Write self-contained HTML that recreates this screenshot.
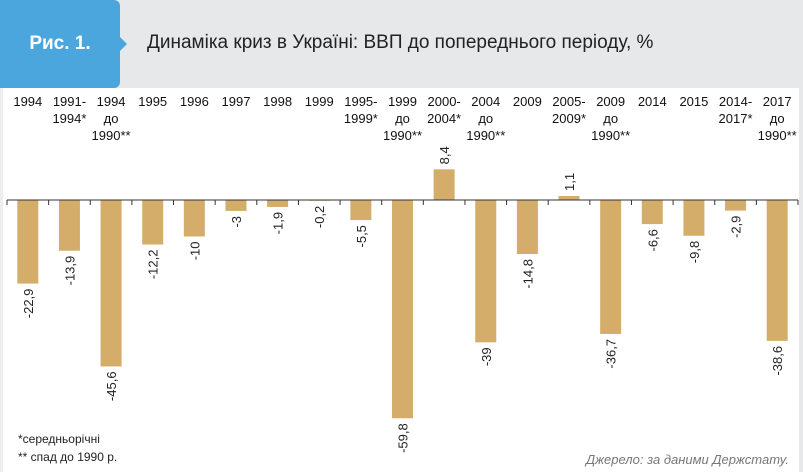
<!DOCTYPE html>
<html><head><meta charset="utf-8"><style>
body{margin:0;width:803px;height:472px;overflow:hidden;background:#fff;font-family:"Liberation Sans",sans-serif}
#hdr{position:absolute;left:0;top:0;width:803px;height:88px;background:#e7e8ea}
#badge{position:absolute;left:0;top:0;width:120px;height:88px;background:#4ba6dd;border-radius:0 6px 6px 0;color:#fff;font-weight:bold;font-size:19px;line-height:88px;text-align:center}
#notch{position:absolute;left:120px;top:37px;width:0;height:0;border-top:7px solid transparent;border-bottom:7px solid transparent;border-left:7px solid #4ba6dd}
#title{position:absolute;left:147px;top:32px;font-size:19px;color:#222}
#rs{position:absolute;right:0;top:88px;width:4px;height:384px;background:#e7e8ea}
#ls{position:absolute;left:0;top:88px;width:3px;height:384px;background:#eee}
svg{position:absolute;left:0;top:0}
.fn{position:absolute;left:18px;font-size:12px;color:#222}
#src{position:absolute;right:14px;top:452px;font-size:13px;font-style:italic;color:#777}
</style></head><body>
<div id="hdr"></div>
<div id="badge">Рис. 1.</div>
<div id="notch"></div>
<div id="title">Динаміка криз в Україні: ВВП до попереднього періоду, %</div>
<div id="rs"></div>
<div id="ls"></div>
<svg id="chart" width="803" height="472"></svg>
<div class="fn" style="top:432px">*середньорічні</div>
<div class="fn" style="top:450px">** спад до 1990 р.</div>
<div id="src">Джерело: за даними Держстату.</div>
<script>
const categories=[["1994"],["1991-","1994*"],["1994","до","1990**"],["1995"],["1996"],["1997"],["1998"],["1999"],["1995-","1999*"],["1999","до","1990**"],["2000-","2004*"],["2004","до","1990**"],["2009"],["2005-","2009*"],["2009","до","1990**"],["2014"],["2015"],["2014-","2017*"],["2017","до","1990**"]];
const values=[-22.9,-13.9,-45.6,-12.2,-10,-3,-1.9,-0.2,-5.5,-59.8,8.4,-39,-14.8,1.1,-36.7,-6.6,-9.8,-2.9,-38.6];
const valueLabels=["-22,9","-13,9","-45,6","-12,2","-10","-3","-1,9","-0,2","-5,5","-59,8","8,4","-39","-14,8","1,1","-36,7","-6,6","-9,8","-2,9","-38,6"];
const svg=document.getElementById('chart');const NS='http://www.w3.org/2000/svg';
const x0=7,x1=798,y0=200,k=3.65,bw=21;
const step=(x1-x0)/categories.length;
const xc=i=>x0+step*(i+0.5);
const y=v=>y0-v*k;
function mk(t,a){const e=document.createElementNS(NS,t);for(const n in a)e.setAttribute(n,a[n]);svg.appendChild(e);return e;}
values.forEach((v,i)=>{
 const r=mk('rect',{x:xc(i)-bw/2,y:Math.min(y(v),y0),width:bw,height:Math.abs(y(v)-y0),fill:'#d4ad6b'});
 
 
 const ly=v<0?y(v)+5:y(v)-5;
 const t=mk('text',{x:xc(i)+5,y:ly,transform:`rotate(-90 ${xc(i)+5} ${ly})`,'font-size':13,fill:'#222','text-anchor':v<0?'end':'start'});
 t.textContent=valueLabels[i];
 
 
 categories[i].forEach((s,j)=>{
  const c=mk('text',{x:xc(i),y:106+j*17,'font-size':13,fill:'#111','text-anchor':'middle'});
  c.textContent=s;
  
  
 });
});
const ax=mk('line',{x1:x0,x2:x1,y1:y0,y2:y0,stroke:'#333','stroke-width':1});


for(let i=0;i<=categories.length;i++){
 const tk=mk('line',{x1:x0+step*i,x2:x0+step*i,y1:y0,y2:y0+5,stroke:'#333'});
 
 
}
</script>
</body></html>
